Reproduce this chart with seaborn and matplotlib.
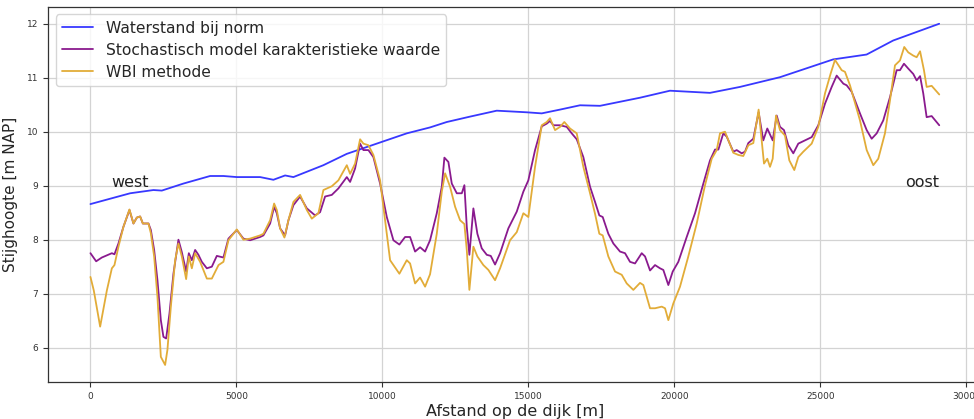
import matplotlib
matplotlib.use("Agg")
import matplotlib.pyplot as plt
import seaborn as sns
import pandas as pd

# Waterstand bij norm
afstand_norm = [0, 1360, 2158, 2445, 3185, 4099, 4555, 5014, 5812, 6267, 6668, 6952,
                7979, 8781, 9808, 10836, 11634, 12205, 13003, 13918, 14945, 15459,
                16086, 16771, 17456, 18825, 19853, 21223, 22250, 23620, 25445,
                26589, 27500, 29075]
waterstand_norm = [8.66, 8.86, 8.92, 8.91, 9.04, 9.18, 9.18, 9.16, 9.16, 9.11, 9.19, 9.16,
                   9.38, 9.59, 9.78, 9.97, 10.08, 10.18, 10.28, 10.39, 10.36, 10.34,
                   10.41, 10.49, 10.48, 10.63, 10.76, 10.72, 10.83, 11.01, 11.34,
                   11.43, 11.69, 12.0]

# Stochastisch model karakteristieke waarde
afstand_stoch = [0, 195, 390, 562, 733, 822, 959, 1130, 1336, 1473, 1589, 1702, 1795,
                 1987, 2069, 2182, 2295, 2411, 2500, 2593, 2706, 2843, 3014, 3130,
                 3278, 3370, 3473, 3586, 3699, 3815, 3987, 4158, 4329, 4555, 4727,
                 5014, 5240, 5470, 5812, 5925, 6155, 6292, 6384, 6497, 6668, 6782,
                 6953, 7182, 7412, 7696, 7867, 8038, 8268, 8494, 8782, 8895, 9066,
                 9237, 9350, 9522, 9693, 9922, 10152, 10378, 10583, 10778, 10950,
                 11121, 11292, 11464, 11634, 11864, 12036, 12125, 12262, 12378,
                 12550, 12721, 12810, 12892, 12981, 13118, 13255, 13405, 13577,
                 13714, 13861, 14033, 14316, 14604, 14830, 15001, 15231, 15460,
                 15631, 15744, 15857, 16087, 16316, 16487, 16659, 16885, 17115,
                 17286, 17433, 17549, 17741, 17913, 18142, 18313, 18484, 18656,
                 18885, 18999, 19170, 19341, 19512, 19625, 19797, 19947, 20139,
                 20426, 20711, 20996, 21225, 21396, 21511, 21680, 21796, 22023,
                 22140, 22310, 22423, 22537, 22708, 22890, 23050, 23187, 23372,
                 23509, 23622, 23759, 23906, 24078, 24249, 24478, 24708, 24934,
                 25164, 25393, 25564, 25793, 25906, 26078, 26362, 26592, 26763,
                 26935, 27160, 27390, 27619, 27732, 27869, 28016, 28188, 28304,
                 28421, 28530, 28646, 28818, 29078]
stochastisch = [7.75, 7.60, 7.67, 7.71, 7.75, 7.73, 7.93, 8.24, 8.55, 8.30, 8.41, 8.43, 8.30,
                8.30, 8.18, 7.81, 7.25, 6.51, 6.20, 6.17, 6.63, 7.37, 8.00, 7.77,
                7.41, 7.75, 7.62, 7.81, 7.72, 7.59, 7.47, 7.50, 7.70, 7.67, 8.02,
                8.18, 8.02, 7.99, 8.05, 8.08, 8.30, 8.61, 8.49, 8.21, 8.08, 8.36,
                8.64, 8.80, 8.58, 8.45, 8.51, 8.80, 8.83, 8.95, 9.16, 9.07, 9.32,
                9.78, 9.66, 9.66, 9.53, 9.04, 8.42, 7.99, 7.91, 8.05, 8.05,
                7.78, 7.86, 7.78, 7.99, 8.49, 8.98, 9.52, 9.44, 9.04,
                8.86, 8.86, 9.01, 8.24, 7.72, 8.58, 8.11, 7.84, 7.72,
                7.70, 7.54, 7.75, 8.21, 8.52, 8.89, 9.10, 9.66, 10.10,
                10.15, 10.20, 10.12, 10.12, 10.09, 9.97, 9.86, 9.53, 8.98,
                8.70, 8.45, 8.42, 8.11, 7.93, 7.78, 7.75, 7.59, 7.56,
                7.75, 7.69, 7.43, 7.53, 7.47, 7.44, 7.16, 7.41, 7.59,
                8.05, 8.49, 9.04, 9.47, 9.67, 9.67, 9.97, 9.91, 9.63,
                9.66, 9.60, 9.63, 9.79, 9.87, 10.36, 9.84, 10.06, 9.84,
                10.30, 10.09, 10.03, 9.75, 9.60, 9.78, 9.84, 9.90, 10.12,
                10.52, 10.83, 11.04, 10.89, 10.86, 10.74, 10.34, 10.03, 9.87,
                9.97, 10.21, 10.64, 11.14, 11.14, 11.26, 11.17, 11.07, 10.95,
                11.03, 10.71, 10.27, 10.29, 10.12]

# WBI methode
afstand_wbi = [0, 114, 332, 562, 733, 822, 959, 1130, 1336, 1473, 1589, 1702, 1795,
               1987, 2069, 2182, 2295, 2411, 2558, 2637, 2754, 2901, 3014, 3130,
               3278, 3370, 3473, 3586, 3757, 3987, 4158, 4387, 4555, 4727, 5014,
               5240, 5470, 5812, 5925, 6155, 6292, 6384, 6497, 6645, 6782, 6953,
               7182, 7412, 7583, 7809, 7980, 8268, 8494, 8782, 8895, 9066, 9237,
               9350, 9522, 9693, 9922, 10094, 10265, 10583, 10836, 10950, 11121,
               11292, 11464, 11634, 11864, 12036, 12149, 12320, 12492, 12663,
               12810, 12892, 12981, 13118, 13255, 13460, 13632, 13861, 14033,
               14374, 14604, 14830, 15001, 15231, 15460, 15631, 15744, 15916,
               16087, 16234, 16429, 16659, 16885, 17115, 17286, 17433, 17549,
               17741, 17971, 18200, 18371, 18598, 18827, 18941, 19170, 19341,
               19571, 19684, 19797, 19968, 20197, 20481, 20769, 21054, 21283,
               21454, 21567, 21738, 22023, 22195, 22365, 22537, 22708, 22890,
               23074, 23187, 23280, 23372, 23485, 23622, 23793, 23941, 24112,
               24249, 24420, 24708, 24934, 25164, 25359, 25506, 25735, 25848,
               26020, 26362, 26592, 26818, 26989, 27218, 27390, 27561, 27732,
               27879, 28016, 28188, 28304, 28421, 28554, 28646, 28818, 29078]
wbi = [7.31, 7.06, 6.39, 7.06, 7.47, 7.53, 7.87, 8.24, 8.56, 8.30, 8.41, 8.43, 8.30,
       8.30, 8.12, 7.69, 6.94, 5.83, 5.68, 5.96, 6.76, 7.62, 7.93, 7.69,
       7.27, 7.69, 7.47, 7.75, 7.59, 7.28, 7.28, 7.53, 7.59, 7.99, 8.19,
       8.00, 8.02, 8.08, 8.11, 8.36, 8.67, 8.55, 8.21, 8.04, 8.36, 8.70,
       8.83, 8.55, 8.39, 8.49, 8.92, 8.99, 9.10, 9.38, 9.22, 9.41, 9.86,
       9.78, 9.75, 9.57, 9.10, 8.36, 7.62, 7.37, 7.62, 7.56, 7.19,
       7.30, 7.13, 7.36, 8.11, 8.89, 9.23, 8.98, 8.61, 8.36,
       8.29, 7.81, 7.07, 7.87, 7.69, 7.53, 7.44, 7.25, 7.47,
       7.99, 8.14, 8.49, 8.42, 9.35, 10.12, 10.18, 10.25, 10.03,
       10.09, 10.18, 10.06, 9.97, 9.35, 8.86, 8.48, 8.11, 8.08,
       7.69, 7.41, 7.35, 7.19, 7.07, 7.20, 7.16, 6.73, 6.73,
       6.76, 6.73, 6.51, 6.82, 7.13, 7.69, 8.30, 9.01, 9.50,
       9.66, 9.97, 10.00, 9.61, 9.57, 9.55, 9.75, 9.79, 10.41,
       9.41, 9.50, 9.35, 9.50, 10.30, 10.03, 9.93, 9.47, 9.29,
       9.53, 9.63, 9.78, 10.09, 10.71, 11.08, 11.33, 11.14, 11.11,
       10.86, 10.21, 9.66, 9.38, 9.50, 9.97, 10.58, 11.23, 11.32,
       11.57, 11.47, 11.41, 11.38, 11.49, 11.14, 10.83, 10.85, 10.69]

labels = ["Waterstand bij norm",
          "Stochastisch model karakteristieke waarde",
          "WBI methode"]
colors = ["#3838ff", "#8a1a8e", "#e2ac38"]

sns.set_style("ticks", {
    "axes.grid": True,
    "grid.color": "#d3d3d3",
    "axes.edgecolor": "#333333",
})
plt.rcParams["font.family"] = ["DejaVu Sans"]

fig = plt.figure(figsize=(9.74, 4.19), dpi=100)
ax = fig.add_axes([0.0493, 0.0883, 0.9586, 0.8957])

df_norm = pd.DataFrame({"x": afstand_norm, "y": waterstand_norm})
df_stoch = pd.DataFrame({"x": afstand_stoch, "y": stochastisch})
df_wbi = pd.DataFrame({"x": afstand_wbi, "y": wbi})

for df, lab, col in zip([df_norm, df_stoch, df_wbi], labels, colors):
    sns.lineplot(data=df, x="x", y="y", ax=ax, color=col, linewidth=1.3,
                 label=lab, estimator=None, sort=False)

ax.grid(True, color="#d3d3d3", linewidth=0.9)
ax.set_xlabel("Afstand op de dijk [m]", fontsize=11.5, labelpad=2)
ax.set_ylabel("Stijghoogte [m NAP]", fontsize=11, labelpad=6)
ax.tick_params(axis="both", labelsize=6.5, colors="#333333", length=3.5, width=0.8)
ax.set_xticks([0, 5000, 10000, 15000, 20000, 25000, 30000])
ax.set_yticks([6, 7, 8, 9, 10, 11, 12])
for s in ax.spines.values():
    s.set_linewidth(0.9)

ax.text(700, 8.98, "west", fontsize=11.5, color="#222222")
ax.text(27900, 8.98, "oost", fontsize=11.5, color="#222222")

leg = ax.legend(loc="upper left", fontsize=11.2, frameon=True, framealpha=0.8,
                borderaxespad=0.5, labelspacing=0.45)

fig.savefig("out.png", dpi=100)
